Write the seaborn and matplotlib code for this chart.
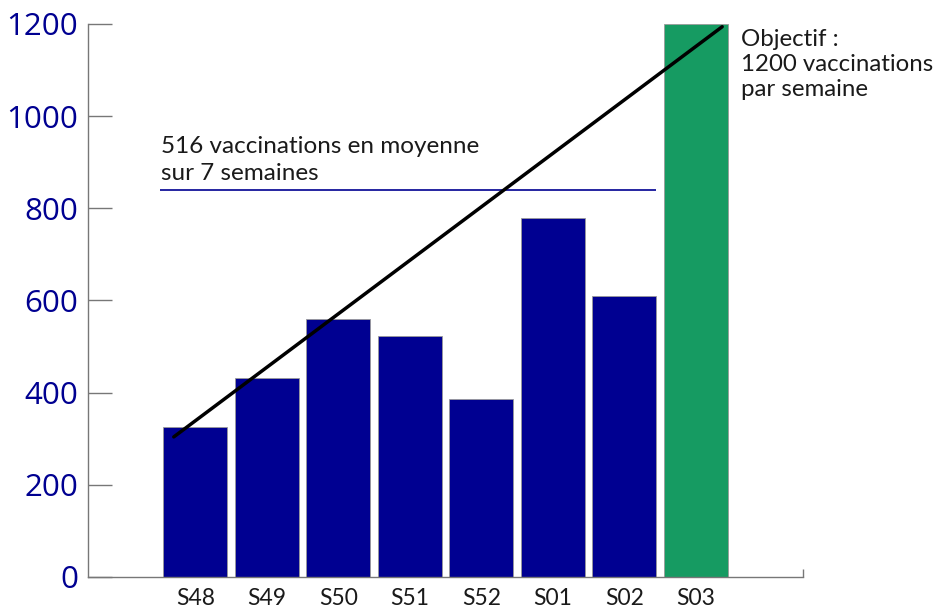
import numpy as np
import matplotlib.pyplot as plt
import seaborn as sns

sns.set_theme(style='white')
plt.rcParams['font.family'] = ['Lato', 'DejaVu Sans']

BLUE = '#000091'
GREEN = '#169B62'

weeks = ['S48', 'S49', 'S50', 'S51', 'S52', 'S01', 'S02', 'S03']
vaccinations = [325, 432, 560, 523, 386, 779, 610, 1200]
bar_colors = [BLUE] * 7 + [GREEN]

avg_level = 840          # drawn position of the "moyenne" line
avg_span = (-0.49, 6.45)
trend_x = [-0.3, 7.37]
trend_y = [304, 1194]
yticks = [0, 200, 400, 600, 800, 1000, 1200]

fig = plt.figure(figsize=(9.35, 6.1), dpi=100)
ax = fig.add_axes([0.0941, 0.0541, 0.7647, 0.9066])

sns.barplot(x=weeks, y=vaccinations, hue=weeks, palette=bar_colors, legend=False,
            width=0.9, edgecolor='#9a9a9a', linewidth=0.6, saturation=1, ax=ax)

ax.hlines(avg_level, *avg_span, color=BLUE, linewidth=1.2)
ax.plot(trend_x, trend_y, color='black', linewidth=2.5, solid_capstyle='round')

ax.text(-0.48, 957, '516 vaccinations en moyenne\nsur 7 semaines',
        fontsize=17.5, color='#1a1a1a', va='top', ha='left', linespacing=1.34)
ax.text(7.64, 1190, 'Objectif :\n1200 vaccinations\npar semaine',
        fontsize=17.3, color='#1a1a1a', va='top', ha='left', linespacing=1.24,
        clip_on=False)

ax.set_xlim(-1.5, 8.5)
ax.set_ylim(0, 1200)
ax.set_yticks(yticks)
ax.set_yticklabels([str(t) for t in yticks], fontsize=22.5, color=BLUE,
                   family=['Open Sans', 'DejaVu Sans'])
ax.tick_params(axis='y', direction='in', length=17, width=1, color='#777777', pad=7, left=True)
ax.tick_params(axis='x', length=0, pad=8, labelsize=16.5, labelcolor='#1a1a1a')
ax.set_xticks([8.5], minor=True)
ax.tick_params(axis='x', which='minor', direction='in', length=6, color='#777777', bottom=True)
ax.set_xlabel('')
ax.set_ylabel('')

for s in ['top', 'right']:
    ax.spines[s].set_visible(False)
for s in ['left', 'bottom']:
    ax.spines[s].set_color('#777777')
    ax.spines[s].set_linewidth(1)

fig.savefig('out.png', dpi=100)
